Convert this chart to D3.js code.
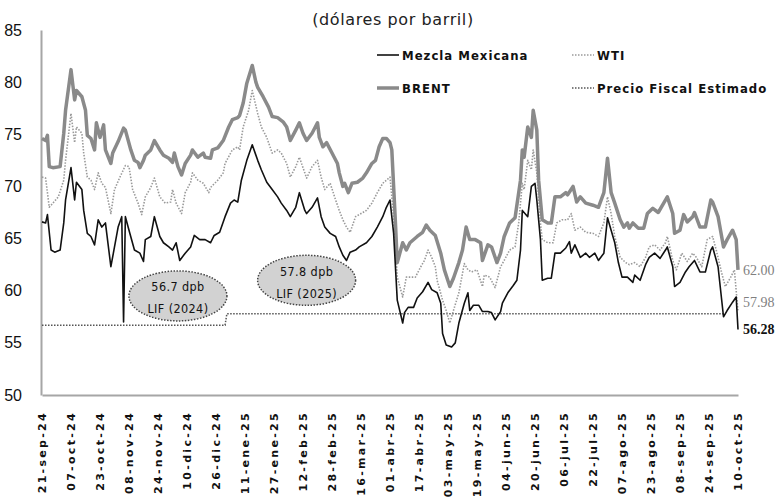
<!DOCTYPE html>
<html>
<head>
<meta charset="utf-8">
<script src="https://cdn.jsdelivr.net/npm/d3@7"></script>
<style>
  body { margin: 0; background: #fff; }
  svg { display: block; }
</style>
</head>
<body>
<div id="chart"></div>
<script>
// ---- data (US$ per barrel) ----
const xTickLabels = ["21-sep-24", "07-oct-24", "23-oct-24", "08-nov-24", "24-nov-24", "10-dic-24",
  "26-dic-24", "11-ene-25", "27-ene-25", "12-feb-25", "28-feb-25", "16-mar-25", "01-abr-25",
  "17-abr-25", "03-may-25", "19-may-25", "04-jun-25", "20-jun-25", "06-jul-25", "22-jul-25",
  "07-ago-25", "23-ago-25", "08-sep-25", "24-sep-25", "10-oct-25"];
const yTicks = [50, 55, 60, 65, 70, 75, 80, 85];

const brent = [
  ["24-09-21",74.6],["24-09-23",74.4],["24-09-24",74.9],["24-09-25",71.9],["24-09-27",71.8],["24-10-01",71.9],
  ["24-10-03",75.1],["24-10-04",77.3],["24-10-07",81.2],["24-10-09",78.3],["24-10-10",79.2],["24-10-13",78.6],
  ["24-10-15",77.3],["24-10-16",74.9],["24-10-18",74.6],["24-10-20",73.5],["24-10-21",76.1],["24-10-23",74.7],
  ["24-10-25",75.9],["24-10-26",73.5],["24-10-29",72.2],["24-10-30",73.2],["24-11-02",74.3],["24-11-05",75.6],
  ["24-11-06",75.4],["24-11-09",73.5],["24-11-11",72.5],["24-11-13",72.3],["24-11-14",71.8],["24-11-16",72.5],
  ["24-11-17",73.0],["24-11-20",73.5],["24-11-22",74.4],["24-11-25",73.5],["24-11-27",73.0],["24-11-30",72.7],
  ["24-12-02",72.3],["24-12-03",73.2],["24-12-05",71.9],["24-12-07",71.1],["24-12-09",72.2],["24-12-12",73.0],
  ["24-12-13",73.5],["24-12-16",72.8],["24-12-19",73.2],["24-12-20",72.8],["24-12-23",72.7],["24-12-24",73.5],
  ["24-12-27",73.7],["24-12-30",74.4],["25-01-02",75.7],["25-01-04",76.4],["25-01-07",76.6],["25-01-08",76.8],
  ["25-01-10",78.0],["25-01-12",79.9],["25-01-15",81.6],["25-01-17",80.0],["25-01-18",79.5],["25-01-21",78.6],
  ["25-01-24",77.6],["25-01-26",76.7],["25-01-29",76.6],["25-02-01",76.2],["25-02-03",75.7],["25-02-05",74.4],
  ["25-02-08",75.4],["25-02-10",76.1],["25-02-12",75.1],["25-02-14",74.4],["25-02-17",75.1],["25-02-20",76.1],
  ["25-02-21",74.7],["25-02-23",73.8],["25-02-25",74.2],["25-02-28",73.2],["25-03-03",72.2],["25-03-04",71.3],
  ["25-03-06",70.0],["25-03-07",70.3],["25-03-09",69.4],["25-03-11",70.3],["25-03-14",70.4],["25-03-17",70.8],
  ["25-03-19",71.3],["25-03-22",72.2],["25-03-24",72.5],["25-03-26",73.8],["25-03-28",74.6],["25-03-30",74.6],
  ["25-04-01",74.2],["25-04-02",73.5],["25-04-04",66.5],["25-04-05",62.7],["25-04-08",64.6],["25-04-10",63.9],
  ["25-04-12",64.6],["25-04-16",65.2],["25-04-19",65.6],["25-04-21",66.3],["25-04-23",65.8],["25-04-26",65.3],
  ["25-04-29",63.6],["25-05-01",62.0],["25-05-04",60.4],["25-05-06",61.2],["25-05-09",62.7],["25-05-11",63.9],
  ["25-05-13",66.1],["25-05-15",64.9],["25-05-18",64.9],["25-05-21",64.6],["25-05-22",62.9],["25-05-25",64.4],
  ["25-05-27",64.2],["25-05-30",62.7],["25-06-01",63.6],["25-06-03",65.2],["25-06-06",66.5],["25-06-09",67.0],
  ["25-06-12",70.6],["25-06-13",73.5],["25-06-14",72.8],["25-06-16",75.7],["25-06-18",74.7],["25-06-19",77.3],
  ["25-06-21",75.4],["25-06-22",70.6],["25-06-24",66.8],["25-06-27",66.5],["25-06-29",66.5],["25-07-01",69.0],
  ["25-07-04",69.0],["25-07-07",69.4],["25-07-08",69.2],["25-07-11",70.0],["25-07-13",68.5],["25-07-15",69.0],
  ["25-07-18",68.4],["25-07-22",68.2],["25-07-25",68.0],["25-07-28",69.4],["25-07-30",72.7],["25-08-01",69.4],
  ["25-08-03",68.4],["25-08-06",66.8],["25-08-08",66.1],["25-08-10",66.5],["25-08-11",66.0],["25-08-13",66.5],
  ["25-08-16",66.0],["25-08-19",66.0],["25-08-21",67.4],["25-08-24",67.9],["25-08-27",67.5],["25-08-30",68.4],
  ["25-09-01",69.0],["25-09-04",67.4],["25-09-05",65.5],["25-09-08",65.8],["25-09-10",67.3],["25-09-12",66.6],
  ["25-09-15",67.1],["25-09-16",67.5],["25-09-19",66.1],["25-09-22",66.1],["25-09-25",68.7],["25-09-26",68.5],
  ["25-09-29",67.1],["25-10-02",64.2],["25-10-04",64.9],["25-10-07",65.8],["25-10-09",64.9],["25-10-10",62.00]
];

const wti = [
  ["24-09-21",70.9],["24-09-23",70.8],["24-09-25",68.0],["24-09-27",68.4],["24-09-30",69.0],["24-10-03",70.6],
  ["24-10-04",72.5],["24-10-07",77.0],["24-10-09",74.2],["24-10-10",75.7],["24-10-13",75.1],["24-10-14",73.2],
  ["24-10-16",70.9],["24-10-18",70.6],["24-10-20",69.7],["24-10-22",71.3],["24-10-24",70.3],["24-10-26",69.9],
  ["24-10-29",67.4],["24-10-31",69.7],["24-11-03",70.9],["24-11-06",72.0],["24-11-08",71.9],["24-11-10",69.7],
  ["24-11-13",68.4],["24-11-15",67.3],["24-11-17",69.0],["24-11-20",69.9],["24-11-22",70.8],["24-11-25",69.0],
  ["24-11-28",68.4],["24-12-01",68.5],["24-12-02",69.7],["24-12-04",68.4],["24-12-07",67.4],["24-12-09",69.4],
  ["24-12-12",70.4],["24-12-13",71.3],["24-12-16",70.6],["24-12-19",70.3],["24-12-22",69.4],["24-12-23",69.9],
  ["24-12-27",70.6],["24-12-30",71.3],["24-12-31",72.2],["25-01-04",73.5],["25-01-07",73.8],["25-01-08",73.5],
  ["25-01-10",75.7],["25-01-13",77.3],["25-01-15",79.2],["25-01-18",77.0],["25-01-20",75.7],["25-01-23",74.7],
  ["25-01-26",73.2],["25-01-29",73.5],["25-01-31",73.2],["25-02-03",72.2],["25-02-05",70.9],["25-02-08",71.9],
  ["25-02-10",72.8],["25-02-13",71.3],["25-02-14",70.8],["25-02-17",71.9],["25-02-20",72.5],["25-02-22",70.9],
  ["25-02-24",69.7],["25-02-27",70.3],["25-03-02",68.7],["25-03-04",67.7],["25-03-06",66.8],["25-03-08",66.1],
  ["25-03-10",65.6],["25-03-13",67.1],["25-03-15",67.3],["25-03-19",67.7],["25-03-22",68.4],["25-03-25",69.4],
  ["25-03-28",70.3],["25-03-30",70.6],["25-04-01",70.9],["25-04-03",67.1],["25-04-05",61.3],["25-04-08",59.4],
  ["25-04-10",61.3],["25-04-12",61.3],["25-04-15",61.3],["25-04-18",62.3],["25-04-20",62.9],["25-04-22",63.9],
  ["25-04-24",63.2],["25-04-26",62.3],["25-04-27",61.0],["25-04-30",59.1],["25-05-02",58.1],["25-05-04",56.9],
  ["25-05-06",58.1],["25-05-09",59.8],["25-05-12",62.6],["25-05-14",62.0],["25-05-16",61.8],["25-05-19",62.0],
  ["25-05-22",60.4],["25-05-23",61.5],["25-05-26",61.3],["25-05-29",60.3],["25-06-01",62.3],["25-06-03",62.9],
  ["25-06-06",63.9],["25-06-09",64.2],["25-06-11",66.5],["25-06-13",70.3],["25-06-14",69.7],["25-06-16",72.5],
  ["25-06-18",71.6],["25-06-19",73.5],["25-06-21",71.3],["25-06-23",66.5],["25-06-24",64.9],["25-06-27",64.6],
  ["25-06-30",64.6],["25-07-02",66.5],["25-07-05",66.8],["25-07-08",66.8],["25-07-10",67.4],["25-07-12",65.8],
  ["25-07-15",66.1],["25-07-18",65.6],["25-07-22",65.5],["25-07-25",65.2],["25-07-28",66.5],["25-07-30",69.0],
  ["25-08-01",67.4],["25-08-03",65.2],["25-08-06",63.2],["25-08-09",62.7],["25-08-11",62.5],["25-08-14",62.7],
  ["25-08-17",62.3],["25-08-20",63.2],["25-08-22",64.2],["25-08-25",64.4],["25-08-28",63.9],["25-08-31",64.6],
  ["25-09-01",65.2],["25-09-04",62.9],["25-09-06",62.0],["25-09-09",63.6],["25-09-12",62.8],["25-09-15",63.6],
  ["25-09-17",63.2],["25-09-20",62.3],["25-09-23",64.9],["25-09-26",65.2],["25-09-28",63.9],["25-10-01",61.7],
  ["25-10-03",60.4],["25-10-06",61.3],["25-10-08",62.0],["25-10-10",57.98]
];

const mezcla = [
  ["24-09-21",66.6],["24-09-23",66.5],["24-09-24",67.3],["24-09-26",63.9],["24-09-28",63.7],["24-10-01",63.9],
  ["24-10-03",66.5],["24-10-04",68.7],["24-10-07",71.8],["24-10-09",68.7],["24-10-10",70.4],["24-10-13",69.7],
  ["24-10-14",67.7],["24-10-16",65.5],["24-10-18",65.2],["24-10-20",64.4],["24-10-22",66.8],["24-10-24",66.1],
  ["24-10-26",66.5],["24-10-29",62.3],["24-10-31",64.2],["24-11-02",66.1],["24-11-04",67.1],["24-11-05",57.0],
  ["24-11-06",67.1],["24-11-08",65.8],["24-11-11",63.9],["24-11-14",63.6],["24-11-16",62.8],["24-11-17",64.9],
  ["24-11-20",65.2],["24-11-22",67.1],["24-11-25",65.2],["24-11-27",64.6],["24-11-30",64.2],["24-12-02",63.9],
  ["24-12-04",64.6],["24-12-06",62.9],["24-12-09",63.6],["24-12-12",64.2],["24-12-14",65.3],["24-12-17",64.9],
  ["24-12-20",64.9],["24-12-23",64.6],["24-12-25",65.3],["24-12-28",65.6],["24-12-31",67.1],["25-01-03",68.4],
  ["25-01-05",68.7],["25-01-07",68.5],["25-01-09",70.6],["25-01-12",72.5],["25-01-15",74.0],["25-01-18",72.5],
  ["25-01-20",71.6],["25-01-23",70.4],["25-01-26",69.7],["25-01-29",69.0],["25-01-31",68.4],["25-02-03",67.7],
  ["25-02-05",67.1],["25-02-08",68.0],["25-02-10",69.4],["25-02-13",67.7],["25-02-14",67.4],["25-02-17",68.0],
  ["25-02-20",68.9],["25-02-22",67.1],["25-02-24",66.1],["25-02-27",65.5],["25-03-02",65.2],["25-03-04",64.2],
  ["25-03-06",63.4],["25-03-08",62.9],["25-03-10",63.7],["25-03-13",63.9],["25-03-15",64.2],["25-03-19",64.6],
  ["25-03-22",65.2],["25-03-25",66.1],["25-03-28",67.1],["25-03-30",68.0],["25-04-01",68.7],["25-04-03",65.5],
  ["25-04-05",59.1],["25-04-08",56.9],["25-04-09",57.9],["25-04-11",58.4],["25-04-14",58.4],["25-04-16",59.3],
  ["25-04-19",59.9],["25-04-22",60.8],["25-04-24",60.1],["25-04-27",59.8],["25-04-29",58.8],["25-04-30",55.9],
  ["25-05-02",54.8],["25-05-05",54.6],["25-05-07",55.0],["25-05-09",56.9],["25-05-12",58.8],["25-05-14",59.8],
  ["25-05-15",58.1],["25-05-17",58.6],["25-05-20",58.6],["25-05-22",58.0],["25-05-25",58.0],["25-05-27",57.9],
  ["25-05-29",57.2],["25-06-01",58.0],["25-06-02",58.8],["25-06-05",59.8],["25-06-08",60.5],["25-06-10",61.0],
  ["25-06-12",63.9],["25-06-13",67.7],["25-06-16",67.1],["25-06-18",70.0],["25-06-20",70.3],["25-06-21",68.7],
  ["25-06-23",64.9],["25-06-24",61.0],["25-06-27",61.2],["25-06-29",61.2],["25-07-01",63.6],["25-07-04",63.6],
  ["25-07-07",64.1],["25-07-09",64.7],["25-07-10",63.6],["25-07-12",64.4],["25-07-15",63.2],["25-07-18",63.6],
  ["25-07-20",63.2],["25-07-23",63.6],["25-07-25",62.9],["25-07-28",63.6],["25-07-30",67.0],["25-08-01",65.8],
  ["25-08-03",64.6],["25-08-05",62.7],["25-08-07",61.3],["25-08-10",61.3],["25-08-13",60.8],["25-08-14",61.5],
  ["25-08-17",61.0],["25-08-20",62.5],["25-08-22",63.2],["25-08-25",63.6],["25-08-28",63.1],["25-08-31",63.9],
  ["25-09-01",64.2],["25-09-04",62.3],["25-09-05",60.4],["25-09-08",60.8],["25-09-11",61.8],["25-09-13",62.3],
  ["25-09-16",62.9],["25-09-19",61.8],["25-09-22",61.8],["25-09-25",63.9],["25-09-26",64.2],["25-09-29",62.3],
  ["25-10-02",57.5],["25-10-04",58.1],["25-10-07",58.9],["25-10-09",59.4],["25-10-10",56.28]
];

// precio fiscal estimado (LIF 2024 / LIF 2025)
const fiscal = [["24-09-21",56.7],["24-12-31",56.7],["25-01-01",57.8],["25-10-02",57.8]];

const fiscalNotes = [
  { date: "24-12-05", value: 59.5, lines: ["56.7 dpb", "LIF (2024)"] },
  { date: "25-02-14", value: 61.0, lines: ["57.8 dpb", "LIF (2025)"] }
];

// ---- setup ----
const width = 783, height = 499;
const margin = { top: 30, right: 45, bottom: 104, left: 42 };
const narrow = "'Liberation Sans Narrow', 'DejaVu Sans Condensed', 'Roboto Condensed', sans-serif";

const parseDay = d3.timeParse("%y-%m-%d");
const monthIdx = { ene: 0, feb: 1, mar: 2, abr: 3, may: 4, jun: 5, jul: 6, ago: 7, sep: 8, oct: 9, nov: 10, dic: 11 };
const parseLabel = s => {
  const [dd, mm, yy] = s.split("-");
  return new Date(2000 + +yy, monthIdx[mm], +dd);
};
const tickDates = xTickLabels.map(parseLabel);

const svg = d3.select("#chart").append("svg")
  .attr("width", width)
  .attr("height", height);

const x = d3.scaleTime()
  .domain([tickDates[0], tickDates[tickDates.length - 1]])
  .range([margin.left, width - margin.right]);

const y = d3.scaleLinear()
  .domain([50, 85])
  .range([height - margin.bottom, margin.top]);

const toPts = arr => arr.map(([d, v]) => ({ date: parseDay(d), value: v }));
const line = d3.line().x(d => x(d.date)).y(d => y(d.value));

// title
svg.append("text")
  .attr("x", 393)
  .attr("y", 19)
  .attr("dy", "0.35em")
  .attr("text-anchor", "middle")
  .style("font-family", "'DejaVu Sans', sans-serif")
  .style("font-size", "16px")
  .style("letter-spacing", "0.6px")
  .style("fill", "#222")
  .text("(dólares por barril)");

// axes
const yAxis = svg.append("g")
  .attr("transform", `translate(${margin.left - 1},0)`)
  .call(d3.axisLeft(y).tickValues(yTicks).tickSize(0).tickSizeOuter(0).tickPadding(19));
yAxis.select(".domain").attr("stroke", "#a6a6a6").attr("stroke-width", 2);
yAxis.selectAll("text")
  .style("font-family", "'Liberation Sans', Arial, sans-serif")
  .style("font-size", "16px")
  .style("fill", "#111");

const xAxis = svg.append("g")
  .attr("transform", `translate(0,${height - margin.bottom})`)
  .call(d3.axisBottom(x).tickValues(tickDates).tickSize(0).tickSizeOuter(0)
    .tickFormat((d, i) => xTickLabels[i]));
xAxis.select(".domain").attr("stroke", "#a6a6a6").attr("stroke-width", 2);
xAxis.selectAll("text")
  .attr("transform", "rotate(-90)")
  .attr("text-anchor", "end")
  .attr("x", -16)
  .attr("y", 0)
  .attr("dy", "0.35em")
  .style("font-family", "'DejaVu Sans', sans-serif")
  .style("font-weight", "bold")
  .style("font-size", "11px")
  .style("letter-spacing", "2.3px")
  .style("fill", "#111");

// fiscal price (behind the notes)
svg.append("path")
  .datum(toPts(fiscal))
  .attr("d", line)
  .attr("fill", "none")
  .attr("stroke", "#555")
  .attr("stroke-width", 1.5)
  .attr("stroke-dasharray", "1.5,1.5");

// ellipse call-outs
const notes = svg.selectAll(".note")
  .data(fiscalNotes)
  .join("g")
  .attr("class", "note")
  .attr("transform", d => `translate(${x(parseDay(d.date))},${y(d.value)})`);
notes.append("ellipse")
  .attr("rx", 49)
  .attr("ry", 25)
  .attr("fill", "#d2d2d2")
  .attr("stroke", "#444")
  .attr("stroke-width", 1.5)
  .attr("stroke-dasharray", "1.5,1.5");
notes.selectAll("text")
  .data(d => d.lines)
  .join("text")
  .attr("y", (d, i) => (i === 0 ? -9 : 13))
  .attr("dy", "0.35em")
  .attr("text-anchor", "middle")
  .style("font-family", narrow)
  .style("font-size", "12.5px")
  .style("letter-spacing", "0.4px")
  .style("fill", "#111")
  .text(d => d);

// price series
const series = [
  { name: "WTI", pts: toPts(wti), color: "#9a9a9a", width: 1.6, dash: "1.5,1.5", labelColor: "#7f7f7f", labelShift: -10, weight: "normal" },
  { name: "BRENT", pts: toPts(brent), color: "#8a8a8a", width: 3.5, dash: null, labelColor: "#7f7f7f", labelShift: 0, weight: "normal" },
  { name: "Mezcla Mexicana", pts: toPts(mezcla), color: "#111", width: 1.6, dash: null, labelColor: "#111", labelShift: 0, weight: "bold" }
];

svg.selectAll(".series")
  .data(series)
  .join("path")
  .attr("class", "series")
  .attr("d", d => line(d.pts))
  .attr("fill", "none")
  .attr("stroke", d => d.color)
  .attr("stroke-width", d => d.width)
  .attr("stroke-dasharray", d => d.dash)
  .attr("stroke-linejoin", "round");

// last value labels
svg.selectAll(".end-label")
  .data(series)
  .join("text")
  .attr("class", "end-label")
  .attr("x", d => x(d.pts[d.pts.length - 1].date) + 5)
  .attr("y", d => y(d.pts[d.pts.length - 1].value) + d.labelShift)
  .attr("dy", "0.35em")
  .style("font-family", "'Liberation Serif', 'DejaVu Serif', serif")
  .style("font-size", "14px")
  .style("font-weight", d => d.weight)
  .style("fill", d => d.labelColor)
  .text(d => d3.format(".2f")(d.pts[d.pts.length - 1].value));

// legend
const legendItems = [
  { label: "Mezcla Mexicana", color: "#111", width: 1.6, dash: null, lx: 377, ly: 55 },
  { label: "WTI", color: "#9a9a9a", width: 1.6, dash: "1.5,1.5", lx: 572, ly: 55 },
  { label: "BRENT", color: "#8a8a8a", width: 3.5, dash: null, lx: 377, ly: 88 },
  { label: "Precio Fiscal Estimado", color: "#555", width: 1.5, dash: "1.5,1.5", lx: 572, ly: 88 }
];
const legend = svg.selectAll(".legend")
  .data(legendItems)
  .join("g")
  .attr("class", "legend")
  .attr("transform", d => `translate(${d.lx},${d.ly})`);
legend.append("line")
  .attr("x1", 0).attr("x2", 22)
  .attr("stroke", d => d.color)
  .attr("stroke-width", d => d.width)
  .attr("stroke-dasharray", d => d.dash);
legend.append("text")
  .attr("x", 25)
  .attr("dy", "0.35em")
  .style("font-family", narrow)
  .style("font-size", "13px")
  .style("font-weight", "bold")
  .style("letter-spacing", "1px")
  .style("fill", "#111")
  .text(d => d.label);
</script>
</body>
</html>
